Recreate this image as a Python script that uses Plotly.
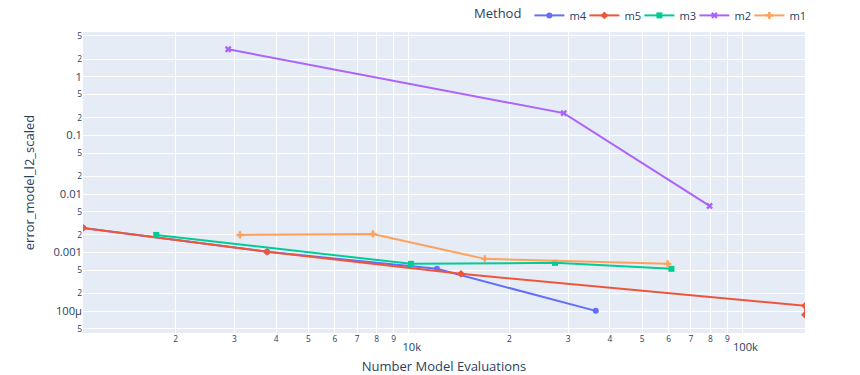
import plotly.graph_objects as go
import math

methods = ["m4", "m5", "m3", "m2", "m1"]
colors = ["#636EFA", "#EF553B", "#00CC96", "#AB63FA", "#FFA15A"]
symbols = ["circle", "diamond", "square", "x", "cross"]

m4_n = [1055, 3758, 12130, 36300]
m4_err = [0.00264, 0.00103, 0.000527, 0.000101]

m5_n = [1055, 3758, 14320, 153800, 153800]
m5_err = [0.00264, 0.00103, 0.000433, 0.000123, 0.0000867]

m3_n = [1748, 10140, 27400, 61200]
m3_err = [0.0020, 0.000641, 0.000667, 0.000527]

m2_n = [2873, 29100, 79600]
m2_err = [2.97, 0.2405, 0.00625]

m1_n = [3117, 7800, 16880, 59600]
m1_err = [0.0020, 0.00208, 0.00078, 0.000641]

data = {"m4": (m4_n, m4_err), "m5": (m5_n, m5_err), "m3": (m3_n, m3_err),
        "m2": (m2_n, m2_err), "m1": (m1_n, m1_err)}

fig = go.Figure()
for name, col, sym in zip(methods, colors, symbols):
    xs, ys = data[name]
    fig.add_trace(go.Scatter(x=xs, y=ys, mode="lines+markers", name=name,
                             line=dict(color=col, width=2),
                             marker=dict(symbol=sym, size=6, color=col)))

all_x = m4_n + m5_n + m3_n + m2_n + m1_n
fig.update_layout(
    width=860, height=375,
    margin=dict(l=83, r=55, t=32, b=42, autoexpand=False),
    template="plotly",
    font=dict(size=11.2),
    legend=dict(title=dict(text="Method", font=dict(size=13)),
                font=dict(size=11.2), orientation="h", entrywidth=10,
                x=1, xanchor="right", y=1.007, yanchor="bottom"),
    xaxis=dict(type="log", title=dict(text="Number Model Evaluations"),
               automargin=False,
               range=[math.log10(min(all_x)), math.log10(max(all_x))]),
    yaxis=dict(type="log", title=dict(text="error_model_l2_scaled"),
               automargin=False,
               range=[-4.374, 0.767]),
)
fig.write_html("out.html")
